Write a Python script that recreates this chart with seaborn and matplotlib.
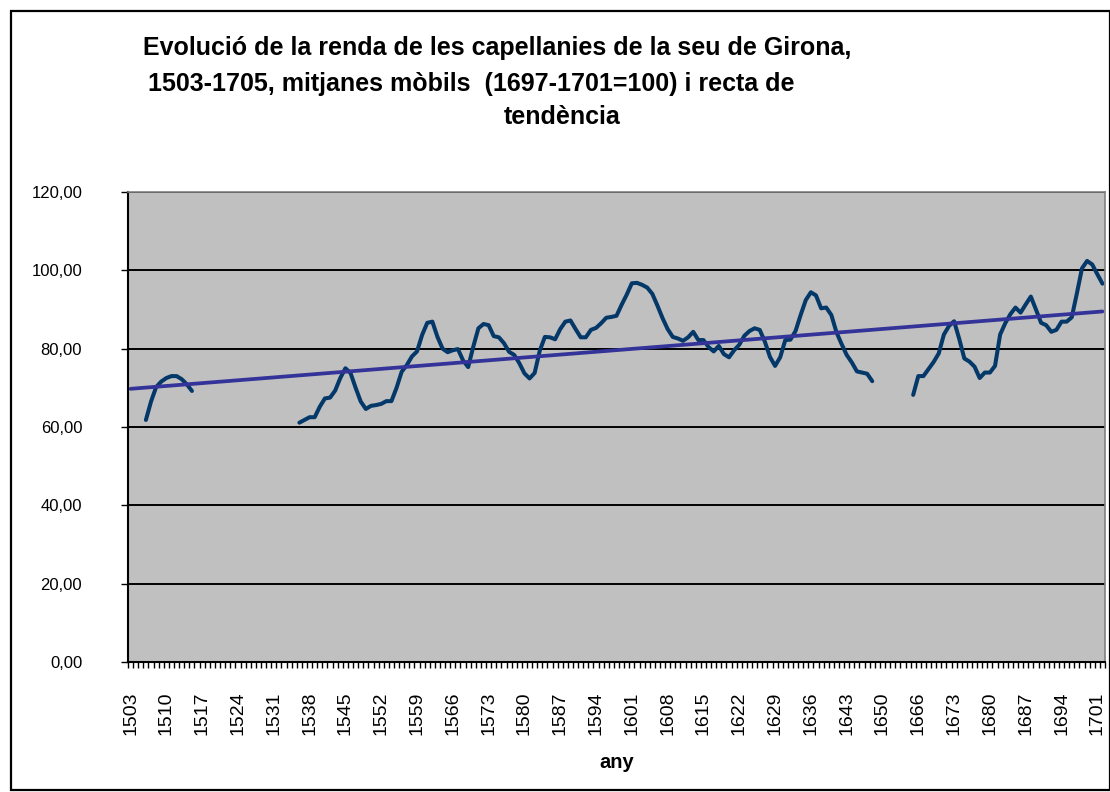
import numpy as np
import pandas as pd
import matplotlib
matplotlib.use("Agg")
import matplotlib.pyplot as plt
from matplotlib.patches import Rectangle
from matplotlib.ticker import FixedLocator, FuncFormatter
import seaborn as sns

# ==========================================
# dades: categories (anys) i mitjanes mòbils
# ==========================================
# l'eix de categories salta de 1650 a 1660
anys = list(range(1503, 1651)) + list(range(1660, 1703))

renda_1506_1515 = [61.8, 66.5, 70.2, 71.6, 72.5, 73.0, 73.0, 72.2, 70.9, 69.2]

renda_1536_1648 = [
    61.1, 61.8, 62.5, 62.5, 65.2, 67.3, 67.5, 69.3, 72.5, 75.0,
    73.8, 70.0, 66.5, 64.6, 65.4, 65.6, 65.9, 66.6, 66.6, 70.0,
    74.1, 75.8, 78.0, 79.3, 83.5, 86.6, 86.9, 83.0, 80.0, 79.1,
    79.6, 79.9, 77.0, 75.3, 80.5, 85.2, 86.3, 86.0, 83.2, 82.9,
    81.4, 79.2, 78.4, 76.3, 73.7, 72.4, 73.8, 79.5, 83.0, 82.9,
    82.4, 85.0, 86.9, 87.2, 85.0, 82.9, 82.9, 84.8, 85.3, 86.5,
    87.9, 88.1, 88.4, 91.2, 93.8, 96.7, 96.8, 96.3, 95.6, 94.0,
    91.0, 87.8, 85.0, 83.0, 82.6, 82.0, 82.9, 84.3, 82.2, 82.2,
    80.4, 79.3, 80.7, 78.6, 77.8, 79.6, 81.0, 83.3, 84.5, 85.2,
    84.8, 81.8, 77.9, 75.6, 77.8, 82.2, 82.3, 84.5, 88.6, 92.4,
    94.4, 93.6, 90.3, 90.5, 88.6, 84.2, 81.2, 78.4, 76.5, 74.2,
    73.9, 73.6, 71.7,
]

renda_1665_1702 = [
    68.2, 73.0, 73.0, 74.8, 76.6, 78.8, 83.6, 85.8, 87.0, 82.5,
    77.5, 76.7, 75.4, 72.5, 73.9, 73.9, 75.6, 83.6, 86.5, 88.8,
    90.5, 89.2, 91.3, 93.3, 90.0, 86.6, 86.0, 84.3, 84.8, 86.9,
    86.9, 88.0, 94.1, 100.5, 102.4, 101.5, 99.0, 96.6,
]

trams = [(1506, renda_1506_1515), (1536, renda_1536_1648), (1665, renda_1665_1702)]

# recta de tendència (valors llegits als extrems)
tendencia_anys = [1503, 1702]
tendencia_valors = [69.75, 89.5]

# ==========================================
# taula llarga per a seaborn
# ==========================================
files = []
for k, (inici, valors) in enumerate(trams):
    p0 = anys.index(inici)
    for j, v in enumerate(valors):
        files.append({"pos": p0 + j, "renda": v, "tram": k})
df = pd.DataFrame(files)

df_tend = pd.DataFrame({
    "pos": [anys.index(a) for a in tendencia_anys],
    "renda": tendencia_valors,
})

# ==========================================
# figura
# ==========================================
sns.set_style("white")
plt.rcParams["font.family"] = ["Liberation Sans", "DejaVu Sans"]
plt.rcParams["text.color"] = "black"

W, H = 1110, 792
fig = plt.figure(figsize=(W / 100, H / 100), dpi=100)
ax = fig.add_axes([128 / W, 1 - 662 / H, 977 / W, 470 / H])
ax.set_facecolor("#C0C0C0")

sns.lineplot(data=df, x="pos", y="renda", units="tram", estimator=None,
             color="#043869", linewidth=2.9, ax=ax, legend=False)
sns.lineplot(data=df_tend, x="pos", y="renda", color="#333399",
             linewidth=2.7, ax=ax, legend=False)

ax.set_xlim(-0.5, len(anys) - 0.5)
ax.set_ylim(0, 120)

# eix Y
ax.set_yticks(np.arange(0, 121, 20))
ax.yaxis.set_major_formatter(FuncFormatter(lambda v, _: f"{v:.2f}".replace(".", ",")))
ax.grid(axis="y", color="black", linewidth=1.4)
ax.grid(axis="x", visible=False)
ax.set_axisbelow(True)
ax.tick_params(axis="y", left=True, direction="out", length=5, width=1,
               labelsize=12, pad=28, colors="black")

# eix X: una marca per categoria, etiqueta cada 7 anys
etiq_pos = list(range(0, len(anys), 7))
ax.set_xticks(etiq_pos)
ax.set_xticklabels([str(anys[i]) for i in etiq_pos], rotation=90)
ax.xaxis.set_minor_locator(FixedLocator(np.arange(-0.5, len(anys), 1)))
ax.tick_params(axis="x", which="major", length=0, labelsize=14, pad=21,
               labelcolor="black")
ax.tick_params(axis="x", which="minor", bottom=True, direction="out",
               length=4, width=1, color="black")

ax.set_xlabel("any", fontsize=14.5, fontweight="bold", labelpad=13, color="black")
ax.set_ylabel("")

for s in ["left", "bottom"]:
    ax.spines[s].set_color("black")
    ax.spines[s].set_linewidth(1.5)
for s in ["top", "right"]:
    ax.spines[s].set_color("#808080")
    ax.spines[s].set_linewidth(1.2)

# títol en tres línies
titol = [
    ("Evolució de la renda de les capellanies de la seu de Girona,", 497, 48),
    ("1503-1705, mitjanes mòbils  (1697-1701=100) i recta de", 471, 84),
    ("tendència", 562, 117),
]
for txt, x, y in titol:
    fig.text(x / W, 1 - y / H, txt, ha="center", va="center",
             fontsize=18, fontweight="bold", color="black")

# marc exterior
fig.add_artist(Rectangle((11 / W, 2 / H), 1 - 11 / W, 1 - 13 / H,
                         transform=fig.transFigure, fill=False,
                         edgecolor="black", linewidth=1.6))

fig.savefig("out.png", dpi=100)
